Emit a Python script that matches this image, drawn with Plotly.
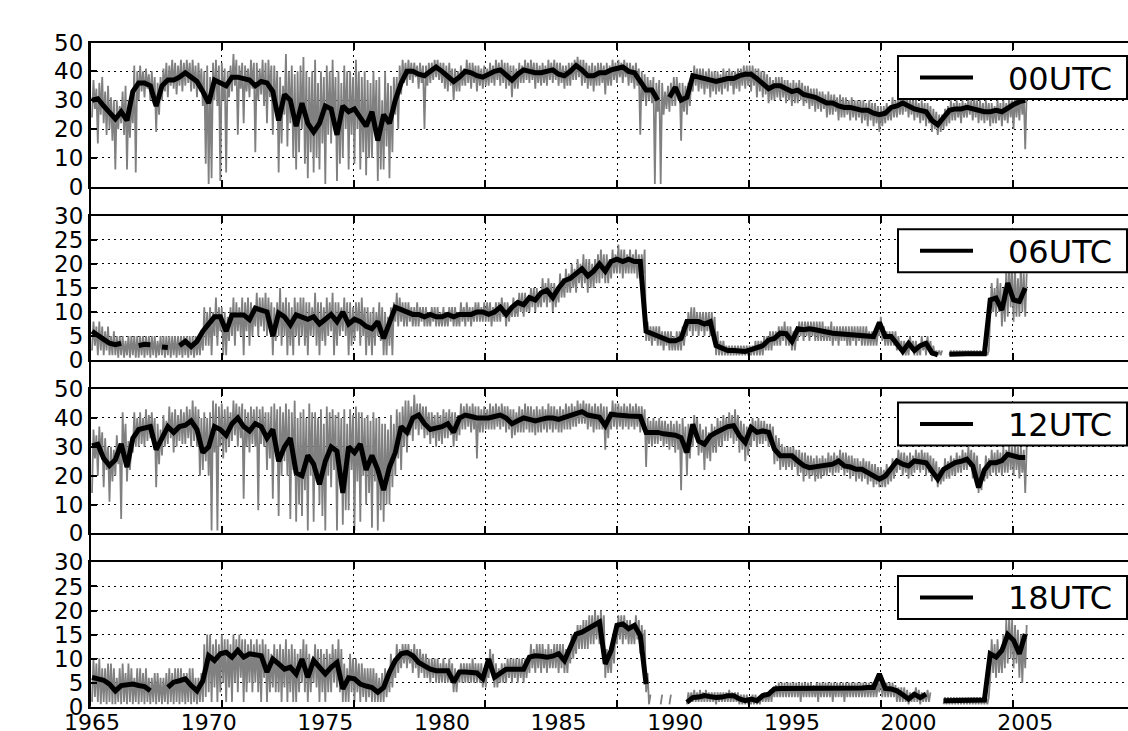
import numpy as np
import plotly.graph_objects as go

N = None

# ---- smoothed series (black), quarterly samples 1965.00 .. 2005.00 ----
T_START = 1965.0
STEP = 0.25

B00 = [30, 30.5, 28, 25.5, 23.5, 26, 23, 33, 36, 36, 35, 28, 35, 37, 37, 38,
       39.5, 38, 36.5, 33, 29, 37, 36, 35, 38, 38, 37.5, 37, 35, 36.5, 36, 33,
       23, 32, 30, 21, 29, 22, 19, 22, 28, 27, 18, 28, 26, 27, 24, 21,
       26, 16, 25, 22, 30, 36, 40, 40, 39, 38.5, 40, 41.5, 40, 38, 36.5, 38,
       40, 39.5, 38.5, 38, 39, 40, 40.5, 39, 37, 39, 40.5, 40, 39.5, 39.5, 40, 40.5,
       39, 38.5, 40, 42, 40.5, 38.5, 38.5, 39.5, 39.5, 40.5, 41, 41.5, 40, 39.5, 36.5, 33.5,
       33.5, 30, N, 31, 34.5, 30, 31, 38.5, 38, 37.5, 37, 36.5, 37, 37.5, 37.5, 38.5,
       39, 39, 37.5, 36, 34, 35, 35, 34, 33, 33.5, 32, 31.5, 31, 30, 29, 29,
       28, 27.5, 27.5, 27, 26.5, 26.5, 25.5, 25, 25.5, 27.5, 28, 29, 28, 27, 26.5, 26,
       23, 21.5, 24, 26.5, 27, 27, 27.5, 27, 26.5, 26, 26, 26.5, 26, 27.5, 28.5, 29.5,
       30]
B06 = [6, 5.3, 4.3, 3.5, 3.2, 3.5, N, N, 3, 3.3, 3.2, N, 2.7, 2.6, N, 3,
       3.9, 2.8, 3.9, 6, 7.5, 9, 9, 6, 9.4, 9.4, 9.4, 8.4, 10.8, 10.4, 10, 5,
       9.8, 9, 7.3, 9.4, 9, 8.5, 9, 7.5, 8.5, 9.5, 8, 10, 7.5, 8.5, 8, 7,
       6.5, 8, 4.5, 7.5, 11, 10.5, 10, 9.5, 9.5, 9, 9.5, 9, 9, 9.5, 9, 9.5,
       9.5, 9.5, 10, 10, 9.5, 10, 11, 9.5, 11, 12, 11.5, 13, 12.5, 14, 14.5, 13,
       15, 16.5, 17, 18, 19, 17.5, 18.5, 20, 18.5, 20.5, 21, 20.5, 21, 20.5, 20.5, 6,
       5.5, 5, 4.5, 4, 4, 4.5, 8, 8, 8, 7.5, 8, 3, 2.5, 2, 2, 1.8,
       1.8, 2.2, 2.5, 3, 4.2, 4.5, 5.6, 5.5, 3.9, 6.5, 6.3, 6.5, 6.3, 6, 5.8, 5.6,
       5.5, 5.4, 5.3, 5.2, 5, 4.9, 4.9, 7.8, 4.9, 4.9, 3.5, 1.8, 3.5, 2, 3, 3.5,
       1.5, 1.1, N, 1.2, 1.3, 1.3, 1.3, 1.3, 1.3, 1.3, 12.5, 12.9, 10.4, 16, 12.5, 12.2,
       15]
B12 = [30.3, 30.9, 26, 23.5, 25.5, 31, 23, 33, 36, 36.5, 37, 29, 33, 37, 35, 37,
       37.5, 39, 36, 28, 30, 37, 36, 34, 38, 40, 37, 35.5, 38, 37, 33, 36,
       25, 30, 33, 21, 20, 27, 24, 17, 25, 30, 28.5, 14, 30, 28, 31, 22,
       27, 22, 15, 23, 28, 37, 35, 40, 41, 38, 36, 36.5, 37, 38, 35, 40,
       41, 40.5, 40, 40, 40, 40.5, 41, 40, 38, 39, 40, 39.5, 39, 39.5, 40, 40,
       39.5, 40.2, 41, 41.5, 42.2, 41, 40.5, 40.2, 37.3, 41.3, 41, 40.7, 40.7, 40.6, 40.5, 35,
       35, 35, 34.5, 34.4, 34, 33.2, 28, 37.8, 32, 30.9, 33.8, 35, 36.1, 37, 37.3, 33.8,
       31.5, 36.7, 35, 35.5, 35, 29.2, 26.9, 26.9, 26.9, 25.1, 23.5, 22.8, 23, 23.4, 23.7, 24,
       25.1, 23.4, 23, 22.2, 22.2, 21, 19.9, 18.8, 19.9, 22.2, 25.1, 24, 23.4, 25.1, 24.8, 24.5,
       21.6, 18.8, 22.2, 23.5, 24.5, 25, 25.7, 23.4, 15.9, 22, 24.5, 24.5, 25.2, 27.4, 26.8, 26.3,
       26.3]
B18 = [6.1, 5.8, 5.5, 4.7, 3.3, 4.4, 4.6, 4.7, 4.4, 4.2, 3.3, N, N, 4, 5.1, 5.4,
       5.8, 4.4, 3.3, 5.4, 10.6, 9.6, 11, 11.3, 10.3, 11.7, 10.3, 11, 10.8, 10.6, 7.2, 9.9,
       8.9, 7.8, 8.2, 6.8, 9.9, 6.1, 9.6, 8.2, 6.8, 8.2, 9.2, 3.7, 6, 5.8, 4.7, 4.3,
       4, 3, 4, 7.2, 9.6, 11, 11.3, 10.6, 9.2, 8.5, 7.8, 7.5, 7.5, 7.5, 5.1, 7.2,
       7.2, 7.2, 7, 5.8, 9.9, 6.1, 7, 7.8, 7.8, 7.8, 7.8, 10.3, 10.6, 10.5, 10.3, 10.5,
       11, 9.6, 12.4, 15.1, 15.5, 16.2, 17, 17.6, 8.9, 11.7, 16.9, 17.2, 16.2, 16.9, 14.8, 4.7,
       N, N, N, N, N, N, 0.9, 1.9, 2, 2.3, 2.1, 1.9, 2, 2.3, 2.3, 1.6,
       1.25, 1.6, 1.25, 2.3, 2.6, 3.7, 3.8, 3.8, 3.8, 3.8, 3.7, 3.8, 3.7, 3.8, 3.8, 3.8,
       3.8, 3.8, 3.8, 3.9, 3.9, 4, 4, 6.8, 3.8, 3.7, 3.3, 2.5, 1.6, 2.6, 1.9, 2.6,
       N, N, 1.25, 1.3, 1.3, 1.3, 1.4, 1.4, 1.4, 1.4, 11, 10.3, 11.7, 15, 13.8, 11,
       15.1]

# ---- raw series (grey), one row per year, 16 samples per year ----
R00 = [
    [24, 37, 27, 34, 15, 36, 25, 38, 22, 33, 18, 35, 20, 31, 16, 30],  # 1965
    [6, 30, 20, 28, 22, 33, 18, 35, 6, 30, 17, 29, 22, 42, 5, 40],
    [30, 42, 33, 40, 31, 41, 34, 39, 30, 40, 29, 38, 19, 36, 25, 38],
    [30, 41, 33, 43, 31, 42, 35, 44, 34, 43, 32, 42, 35, 44, 33, 43],
    [35, 44, 36, 43, 33, 44, 34, 42, 31, 43, 33, 41, 28, 40, 8, 42],
    [1, 38, 3, 43, 30, 44, 28, 42, 2, 43, 30, 41, 5, 40, 31, 42],  # 1970
    [33, 46, 35, 44, 18, 42, 34, 43, 22, 42, 33, 41, 31, 44, 34, 43],
    [12, 43, 30, 41, 32, 44, 28, 43, 22, 44, 31, 42, 18, 42, 26, 40],
    [5, 38, 15, 35, 25, 46, 14, 40, 22, 42, 10, 39, 6, 40, 12, 42],
    [20, 45, 8, 40, 3, 38, 12, 40, 5, 44, 10, 36, 6, 40, 15, 38],
    [1, 42, 18, 40, 15, 44, 20, 38, 2, 40, 8, 36, 10, 42, 20, 40],  # 1975
    [6, 40, 18, 38, 8, 44, 20, 40, 6, 38, 12, 40, 4, 37, 10, 36],
    [10, 40, 18, 37, 2, 38, 6, 30, 6, 40, 14, 36, 3, 35, 12, 38],
    [25, 38, 20, 42, 32, 44, 36, 43, 35, 44, 37, 43, 36, 43, 38, 42],
    [34, 43, 36, 42, 20, 42, 35, 43, 36, 43, 37, 44, 38, 44, 37, 43],
    [36, 43, 34, 42, 33, 43, 35, 41, 30, 41, 33, 40, 33, 42, 35, 41],  # 1980
    [35, 44, 36, 43, 34, 43, 36, 42, 33, 42, 35, 41, 34, 42, 35, 41],
    [35, 43, 36, 42, 35, 44, 37, 43, 35, 44, 36, 43, 34, 43, 35, 42],
    [31, 42, 34, 41, 34, 43, 36, 42, 36, 44, 37, 43, 36, 44, 37, 43],
    [34, 43, 36, 42, 35, 43, 36, 42, 35, 44, 37, 43, 36, 44, 37, 43],
    [35, 43, 36, 42, 34, 42, 35, 43, 35, 43, 37, 44, 37, 45, 38, 44],  # 1985
    [35, 44, 36, 43, 34, 42, 35, 43, 33, 42, 35, 43, 35, 43, 36, 42],
    [32, 43, 35, 42, 35, 44, 37, 43, 36, 44, 38, 43, 36, 44, 38, 43],
    [35, 43, 36, 42, 34, 43, 35, 41, 18, 40, 30, 39, 28, 38, 30, 37],
    [29, 38, 1, 36, 26, 37, 1, 36, 25, 33, 27, 35, 26, 36, 28, 38],
    [28, 38, 30, 36, 16, 36, 26, 35, 25, 36, 28, 37, 33, 42, 35, 41],  # 1990
    [33, 41, 34, 41, 32, 40, 34, 41, 31, 40, 33, 40, 32, 40, 33, 39],
    [32, 41, 34, 40, 33, 41, 35, 40, 32, 40, 34, 41, 33, 41, 35, 42],
    [34, 42, 35, 42, 33, 42, 35, 41, 31, 41, 33, 40, 31, 40, 32, 39],
    [29, 38, 30, 37, 30, 38, 31, 38, 30, 38, 31, 37, 29, 37, 30, 36],
    [28, 37, 29, 36, 29, 37, 30, 36, 28, 35, 29, 35, 27, 34, 28, 34],  # 1995
    [26, 34, 27, 33, 26, 33, 27, 32, 24, 33, 25, 32, 25, 32, 26, 31],
    [23, 32, 24, 31, 24, 31, 25, 30, 23, 31, 24, 30, 23, 30, 24, 30],
    [22, 30, 23, 29, 21, 30, 23, 29, 21, 29, 22, 28, 19, 28, 21, 28],
    [22, 29, 23, 28, 23, 31, 24, 30, 24, 32, 25, 31, 25, 32, 26, 31],
    [24, 31, 25, 30, 23, 31, 24, 29, 22, 30, 23, 29, 21, 29, 22, 28],  # 2000
    [19, 27, 20, 26, 18, 25, 19, 25, 20, 27, 21, 28, 22, 30, 23, 29],
    [23, 30, 24, 29, 22, 30, 24, 29, 24, 31, 25, 30, 23, 31, 24, 30],
    [22, 30, 23, 29, 22, 30, 23, 29, 21, 29, 22, 28, 22, 30, 23, 29],
    [21, 30, 23, 29, 22, 31, 24, 30, 20, 32, 24, 31, 23, 33, 25, 32],
    [13, 33],  # 2005
]
R06 = [
    [2, 8, 3, 7, 1, 8, 2, 7, 1, 6, 2, 7, 1, 5, 1, 6],  # 1965
    [1, 5, 0.5, 5, 1, 5, 0.5, 4, 1, 5, 0.5, 5, 1, 5, 0.5, 5],
    [0.5, 5, 1, 5, 0.5, 5, 1, 5, 0.5, 5, 1, 5, 0.5, 4, 1, 5],
    [1, 5, 0.5, 5, 1, 5, 0.5, 5, 1, 5, 0.5, 5, 1, 5, 0.5, 5],
    [1, 5, 0.5, 5, 1, 5, 0.5, 5, 1, 5, 1, 6, 2, 11, 3, 10],
    [3, 11, 1, 10, 5, 13, 3, 11, 6, 11, 1, 10, 1, 9, 4, 11],  # 1970
    [5, 13, 3, 12, 6, 11, 5, 13, 1, 12, 6, 13, 3, 12, 5, 11],
    [7, 14, 5, 13, 7, 13, 6, 14, 5, 13, 6, 12, 1, 11, 4, 12],
    [5, 15, 3, 12, 5, 13, 1, 12, 3, 11, 1, 13, 5, 12, 3, 13],
    [5, 13, 3, 12, 1, 12, 5, 11, 5, 14, 3, 12, 1, 12, 4, 11],
    [3, 13, 5, 12, 6, 14, 1, 12, 3, 12, 5, 11, 6, 13, 5, 12],  # 1975
    [1, 12, 3, 11, 4, 12, 6, 12, 3, 13, 5, 11, 1, 11, 3, 10],
    [1, 11, 3, 10, 5, 12, 4, 11, 1, 10, 1, 9, 3, 11, 1, 12],
    [8, 14, 7, 13, 8, 12, 7, 12, 7, 12, 8, 11, 7, 11, 7, 12],
    [7, 11, 8, 11, 7, 11, 7, 10, 7, 11, 8, 11, 7, 11, 7, 10],
    [7, 11, 7, 10, 7, 11, 8, 11, 7, 11, 7, 10, 7, 12, 8, 11],  # 1980
    [7, 12, 8, 11, 7, 11, 8, 12, 8, 12, 8, 11, 8, 12, 8, 12],
    [8, 12, 7, 11, 8, 12, 8, 12, 8, 13, 9, 12, 7, 12, 8, 11],
    [9, 13, 9, 12, 9, 14, 10, 14, 9, 14, 10, 13, 10, 15, 11, 15],
    [10, 15, 11, 14, 11, 17, 12, 16, 11, 17, 12, 16, 10, 16, 11, 15],
    [12, 18, 13, 17, 13, 19, 14, 18, 14, 20, 15, 19, 14, 21, 16, 20],  # 1985
    [15, 22, 16, 21, 14, 21, 15, 20, 15, 21, 16, 22, 16, 23, 17, 22],
    [16, 22, 16, 21, 17, 23, 18, 22, 18, 24, 18, 23, 17, 23, 18, 22],
    [18, 23, 18, 22, 18, 23, 17, 22, 17, 22, 18, 23, 4, 8, 4, 7],
    [3, 7, 4, 7, 3, 7, 3, 6, 2, 6, 3, 6, 2, 6, 2, 5],
    [2, 6, 2, 6, 2, 7, 3, 7, 5, 10, 6, 11, 5, 11, 6, 10],  # 1990
    [5, 10, 6, 10, 5, 10, 6, 10, 5, 10, 6, 9, 1, 6, 1, 4],
    [1, 4, 1, 3, 1, 3, 1, 3, 1, 3, 1, 3, 1, 3, 1, 3],
    [1, 3, 1, 3, 1, 3, 1, 4, 1, 4, 1, 4, 1, 5, 2, 5],
    [2, 6, 2, 6, 3, 6, 3, 7, 3, 7, 4, 8, 3, 7, 3, 7],
    [2, 6, 2, 5, 4, 8, 5, 8, 4, 8, 5, 8, 4, 8, 5, 8],  # 1995
    [4, 8, 4, 8, 4, 8, 4, 7, 4, 7, 4, 8, 3, 7, 4, 7],
    [3, 7, 4, 7, 4, 7, 3, 7, 3, 7, 4, 7, 3, 7, 4, 7],
    [3, 7, 3, 7, 3, 6, 3, 6, 3, 6, 3, 6, 5, 9, 4, 7],
    [3, 6, 3, 6, 3, 6, 3, 6, 2, 5, 2, 4, 1, 4, 1, 3],
    [1, 5, 2, 4, 1, 4, 1, 3, 1, 5, 2, 4, 1, 5, 2, 4],  # 2000
    [1, 3, 1, 2, 1, 2, 1, 2, N, N, N, N, 1, 2, 1, 2],
    [1, 2, 1, 2, 1, 2, 1, 2, 1, 2, 1, 2, 1, 2, 1, 2],
    [1, 2, 1, 2, 1, 2, 1, 2, 9, 16, 10, 15, 9, 17, 10, 16],
    [7, 15, 8, 19, 9, 20, 11, 19, 8, 19, 9, 17, 9, 20, 10, 18],
    [9, 18],  # 2005
]
R12 = [
    [14, 36, 26, 34, 20, 37, 27, 35, 16, 33, 22, 30, 11, 30, 18, 29],  # 1965
    [20, 34, 24, 31, 5, 42, 26, 38, 18, 32, 22, 30, 28, 42, 30, 40],
    [30, 42, 31, 40, 30, 43, 32, 41, 33, 42, 31, 40, 16, 38, 24, 36],
    [27, 41, 30, 39, 31, 44, 33, 42, 28, 43, 30, 41, 32, 43, 31, 42],
    [31, 44, 33, 43, 30, 46, 32, 44, 30, 43, 20, 40, 22, 42, 25, 40],
    [20, 42, 1, 46, 28, 45, 1, 44, 30, 45, 26, 43, 28, 44, 30, 42],  # 1970
    [32, 46, 34, 45, 30, 44, 33, 45, 12, 43, 30, 42, 28, 44, 31, 43],
    [30, 44, 8, 43, 31, 44, 30, 42, 22, 42, 26, 44, 12, 45, 28, 43],
    [6, 44, 20, 42, 25, 45, 20, 43, 5, 42, 22, 46, 4, 40, 10, 42],
    [6, 43, 15, 40, 1, 45, 20, 42, 4, 42, 18, 40, 10, 43, 6, 38],
    [1, 44, 20, 42, 16, 43, 22, 41, 1, 42, 18, 40, 3, 43, 8, 38],  # 1975
    [8, 43, 22, 41, 1, 44, 18, 42, 4, 42, 20, 40, 10, 41, 14, 39],
    [2, 42, 18, 40, 1, 40, 8, 38, 4, 38, 10, 36, 10, 41, 16, 38],
    [20, 43, 26, 42, 22, 44, 30, 46, 28, 46, 34, 44, 32, 48, 36, 45],
    [34, 45, 36, 44, 33, 44, 34, 42, 31, 42, 33, 41, 30, 42, 32, 41],
    [31, 43, 33, 42, 33, 43, 34, 42, 30, 42, 32, 41, 34, 45, 36, 44],  # 1980
    [36, 45, 37, 44, 35, 45, 36, 44, 26, 44, 35, 43, 35, 44, 36, 43],
    [36, 45, 36, 44, 36, 45, 37, 44, 36, 45, 37, 44, 35, 44, 36, 43],
    [33, 43, 34, 42, 35, 44, 35, 43, 35, 45, 36, 44, 35, 44, 35, 43],
    [34, 44, 35, 43, 35, 44, 36, 43, 35, 45, 36, 44, 35, 44, 36, 43],
    [35, 44, 35, 43, 36, 45, 36, 44, 36, 45, 37, 44, 37, 46, 38, 45],  # 1985
    [38, 46, 38, 45, 36, 45, 37, 44, 35, 45, 36, 44, 36, 45, 36, 44],
    [29, 44, 33, 42, 36, 46, 37, 45, 36, 45, 37, 44, 36, 45, 37, 44],
    [36, 45, 37, 44, 36, 45, 37, 44, 35, 44, 36, 43, 23, 40, 31, 39],
    [30, 40, 31, 39, 31, 40, 32, 39, 30, 39, 31, 38, 29, 39, 30, 38],
    [28, 39, 29, 38, 15, 40, 28, 37, 20, 38, 26, 36, 30, 41, 33, 40],  # 1990
    [27, 38, 28, 36, 22, 37, 26, 35, 25, 38, 28, 37, 28, 40, 30, 39],
    [30, 41, 32, 40, 32, 42, 33, 41, 31, 43, 32, 41, 28, 39, 29, 38],
    [25, 37, 27, 36, 30, 40, 32, 39, 30, 40, 31, 39, 31, 39, 32, 38],
    [30, 38, 31, 37, 24, 34, 25, 33, 22, 31, 23, 30, 22, 30, 23, 30],
    [22, 30, 23, 29, 20, 29, 21, 28, 18, 28, 20, 27, 19, 27, 20, 26],  # 1995
    [18, 27, 19, 26, 19, 27, 20, 26, 20, 28, 21, 27, 20, 28, 21, 27],
    [21, 29, 22, 28, 20, 28, 21, 27, 19, 27, 20, 26, 18, 26, 19, 25],
    [18, 26, 19, 25, 17, 25, 18, 24, 16, 24, 17, 23, 16, 23, 16, 22],
    [16, 24, 17, 23, 18, 26, 19, 25, 21, 29, 22, 28, 20, 28, 21, 27],
    [19, 28, 20, 27, 21, 29, 22, 28, 21, 29, 22, 28, 20, 28, 21, 27],  # 2000
    [18, 26, 19, 25, 16, 23, 17, 22, 18, 26, 19, 25, 19, 27, 20, 26],
    [20, 28, 21, 27, 21, 29, 22, 28, 22, 30, 23, 29, 19, 28, 20, 27],
    [14, 24, 15, 22, 18, 27, 19, 26, 20, 29, 21, 28, 20, 29, 21, 28],
    [20, 30, 21, 29, 21, 31, 22, 30, 20, 31, 22, 30, 19, 30, 21, 29],
    [14, 30],  # 2005
]
R18 = [
    [1, 10, 2, 9, 1, 10, 0.5, 8, 1, 8, 0.5, 9, 1, 9, 0.5, 8],  # 1965
    [0.5, 6, 1, 8, 0.5, 9, 1, 7, 0.5, 9, 1, 8, 0.5, 6, 1, 8],
    [0.5, 8, 1, 7, 0.5, 8, 1, 6, 0.5, 6, 1, 7, 0.5, 7, 1, 6],
    [0.5, 6, 1, 7, 0.5, 8, 1, 7, 0.5, 8, 1, 8, 0.5, 8, 1, 7],
    [0.5, 7, 1, 8, 0.5, 8, 1, 6, 0.5, 6, 1, 7, 1, 13, 2, 15],
    [3, 15, 1, 13, 4, 14, 1, 13, 3, 15, 5, 14, 1, 14, 4, 13],  # 1970
    [1, 15, 5, 14, 3, 15, 6, 14, 1, 14, 3, 13, 5, 14, 3, 13],
    [5, 14, 3, 13, 1, 14, 6, 13, 1, 12, 3, 11, 4, 13, 3, 12],
    [3, 13, 1, 12, 4, 14, 1, 12, 3, 13, 1, 12, 1, 11, 3, 12],
    [5, 14, 3, 13, 1, 11, 3, 10, 5, 13, 4, 12, 1, 12, 3, 11],
    [1, 12, 3, 11, 3, 13, 5, 12, 4, 14, 3, 12, 1, 9, 1, 8],  # 1975
    [1, 11, 3, 10, 1, 10, 3, 9, 1, 9, 2, 8, 1, 8, 2, 8],
    [1, 8, 1, 7, 1, 6, 1, 7, 1, 8, 2, 7, 3, 11, 4, 10],
    [6, 13, 7, 12, 8, 13, 9, 13, 8, 13, 9, 12, 7, 13, 8, 12],
    [6, 12, 7, 11, 6, 11, 6, 10, 5, 10, 6, 10, 5, 10, 5, 9],
    [5, 10, 5, 9, 5, 10, 5, 9, 3, 8, 3, 7, 5, 9, 5, 9],  # 1980
    [5, 9, 5, 9, 5, 10, 5, 9, 5, 9, 5, 9, 4, 8, 4, 8],
    [6, 12, 7, 11, 4, 9, 4, 8, 5, 9, 5, 9, 5, 10, 6, 10],
    [5, 10, 6, 10, 5, 10, 6, 10, 5, 10, 6, 10, 7, 13, 8, 12],
    [7, 13, 8, 13, 7, 13, 8, 12, 7, 13, 8, 12, 8, 13, 8, 13],
    [7, 13, 8, 13, 7, 12, 7, 12, 9, 15, 10, 14, 11, 17, 12, 17],  # 1985
    [12, 18, 12, 18, 12, 19, 13, 19, 13, 20, 14, 19, 13, 20, 14, 19],
    [6, 12, 7, 11, 7, 14, 9, 16, 13, 19, 14, 19, 13, 19, 14, 18],
    [13, 18, 13, 17, 13, 19, 14, 18, 11, 17, 12, 16, 3, 7, 0.5, 2.5],
    [N, N, N, N, N, N, 0.5, 2.5, N, N, N, N, 0.5, 2.5, N, N],
    [N, N, N, N, N, N, N, N, 0.5, 3, 1, 3, 1, 3.5, 1, 3],  # 1990
    [1, 3.5, 1, 3, 1, 3.5, 1, 3, 1, 3, 1, 3, 0.5, 3, 1, 3],
    [1, 3, 1, 3, 1, 3.5, 1, 3, 1, 3, 1, 3, 0.5, 2.5, 0.5, 2.5],
    [0.5, 2.5, 0.5, 2, 0.5, 2.5, 0.5, 2.5, 0.5, 2, 0.5, 2.5, 1, 3, 1, 3],
    [1, 3.5, 1, 4, 2, 4.5, 2, 5, 2, 5, 2, 5, 2, 5, 2, 5],
    [2, 5, 2, 5, 2, 5, 1, 5, 2, 5, 2, 5, 2, 5, 2, 4.5],  # 1995
    [2, 5, 1, 5, 2, 5, 2, 5, 2, 5, 2, 5, 1, 5, 2, 5],
    [2, 5, 2, 5, 1, 5, 2, 5, 2, 5, 2, 5, 2, 5, 2, 5],
    [2, 5, 2, 5, 2, 5, 2, 5, 2, 5, 2, 5, 3, 7, 2, 5],
    [2, 5, 2, 5, 2, 5, 2, 4.5, 1, 4, 1, 4, 1, 4, 1, 3.5],
    [0.5, 3, 1, 3, 1, 4, 1, 3.5, 0.5, 3, 1, 3, 1, 3.5, 1, 3],  # 2000
    [N, N, N, N, N, N, N, N, 0.5, 2, 0.5, 2, 0.5, 2, 0.5, 2],
    [0.5, 2, 0.5, 2, 0.5, 2, 0.5, 2, 0.5, 2, 0.5, 2, 0.5, 2, 0.5, 2],
    [0.5, 2, 0.5, 2, 0.5, 2, 0.5, 2, 6, 14, 7, 13, 6, 14, 7, 12],
    [7, 15, 8, 18, 9, 19, 10, 18, 8, 17, 9, 16, 6, 15, 5, 14],
    [8, 17],  # 2005
]

PANELS = [
    ("00UTC", 50, 10, B00, R00),
    ("06UTC", 30, 5, B06, R06),
    ("12UTC", 50, 10, B12, R12),
    ("18UTC", 30, 5, B18, R18),
]

YEAR_TICKS = list(range(1965, 2010, 5))
GRID_YEARS = [1970.56, 1976.21, 1981.86, 1987.51, 1993.16, 1998.81, 2004.46]
X_RANGE = [1964.914, 2009.405]

# ---- page geometry (pixels) ----
W, H = 1128, 731
LEFT = 90
PANEL_TOPS = [42.5, 215.8, 389.1, 562.4]
PANEL_H = 144.3

FONT = "DejaVu Sans"
GREY = "#808080"
DOT = "2px,4px"


def py(pix):
    return 1 - pix / H


def raw_xy(rows):
    xs, ys = [], []
    for yi, row in enumerate(rows):
        for j, v in enumerate(row):
            xs.append(T_START + yi + j / 16)
            ys.append(np.nan if v is None else v)
    return xs, ys


t = T_START + STEP * np.arange(len(B00))

fig = go.Figure()
shapes = []
annotations = []

for i, (name, ymax, dtick, black, rows) in enumerate(PANELS):
    k = "" if i == 0 else str(i + 1)
    rx, ry = raw_xy(rows)
    fig.add_trace(go.Scatter(x=rx, y=ry, mode="lines", xaxis="x" + k, yaxis="y" + k,
                             line=dict(color=GREY, width=1.8), showlegend=False,
                             connectgaps=False, hoverinfo="skip"))
    fig.add_trace(go.Scatter(x=t, y=black, mode="lines", xaxis="x" + k, yaxis="y" + k,
                             line=dict(color="black", width=5), name=name,
                             showlegend=False, connectgaps=False))

    top = PANEL_TOPS[i]
    bottom = top + PANEL_H
    last = i == len(PANELS) - 1
    fig.update_layout({
        "xaxis" + k: dict(
            domain=[LEFT / W, 1], range=X_RANGE, anchor="y" + k, automargin=False,
            matches=None if i == 0 else "x",
            tickvals=YEAR_TICKS, ticktext=[str(y) for y in YEAR_TICKS],
            showticklabels=last, ticks="", showgrid=False, zeroline=False,
            ticklabelstandoff=-5,
            showline=True, linecolor="black", linewidth=2, mirror="allticks",
            tickfont=dict(family=FONT, size=22, color="black"),
            minor=dict(tickvals=GRID_YEARS, ticks="inside", ticklen=7, tickwidth=1.5,
                       tickcolor="black", showgrid=True, gridcolor="black",
                       gridwidth=1.2, griddash=DOT),
        ),
        "yaxis" + k: dict(
            domain=[py(bottom), py(top)], range=[0, ymax], anchor="x" + k,
            automargin=False,
            tickvals=list(range(0, ymax + 1, dtick)), ticks="inside", ticklen=7,
            tickwidth=1.5, tickcolor="black", showgrid=True, gridcolor="black",
            gridwidth=1.2, griddash=DOT, zeroline=False,
            showline=True, linecolor="black", linewidth=2,
            tickfont=dict(family=FONT, size=23, color="black"),
        ),
    })

    # legend box in the upper right of the panel
    b0, b1 = top + 13.5, top + 56.5
    ym = (b0 + b1) / 2
    shapes.append(dict(type="rect", xref="paper", yref="paper",
                       x0=898 / W, x1=1127 / W, y0=py(b1), y1=py(b0),
                       fillcolor="white", line=dict(color="black", width=2), layer="above"))
    shapes.append(dict(type="line", xref="paper", yref="paper",
                       x0=920 / W, x1=973 / W, y0=py(ym), y1=py(ym),
                       line=dict(color="black", width=4), layer="above"))
    annotations.append(dict(text=name, xref="paper", yref="paper", x=1006 / W, y=py(ym + 1),
                            xanchor="left", yanchor="middle", showarrow=False,
                            font=dict(family=FONT, size=32, color="black")))

# left spine runs continuously through the gaps between panels
shapes.append(dict(type="line", xref="paper", yref="paper", x0=LEFT / W, x1=LEFT / W,
                   y0=py(PANEL_TOPS[-1] + PANEL_H), y1=py(PANEL_TOPS[0]),
                   line=dict(color="black", width=2), layer="above"))

fig.update_layout(width=W, height=H, margin=dict(l=0, r=0, t=0, b=0),
                  paper_bgcolor="white", plot_bgcolor="white",
                  shapes=shapes, annotations=annotations, showlegend=False)

fig.write_html("out.html")
